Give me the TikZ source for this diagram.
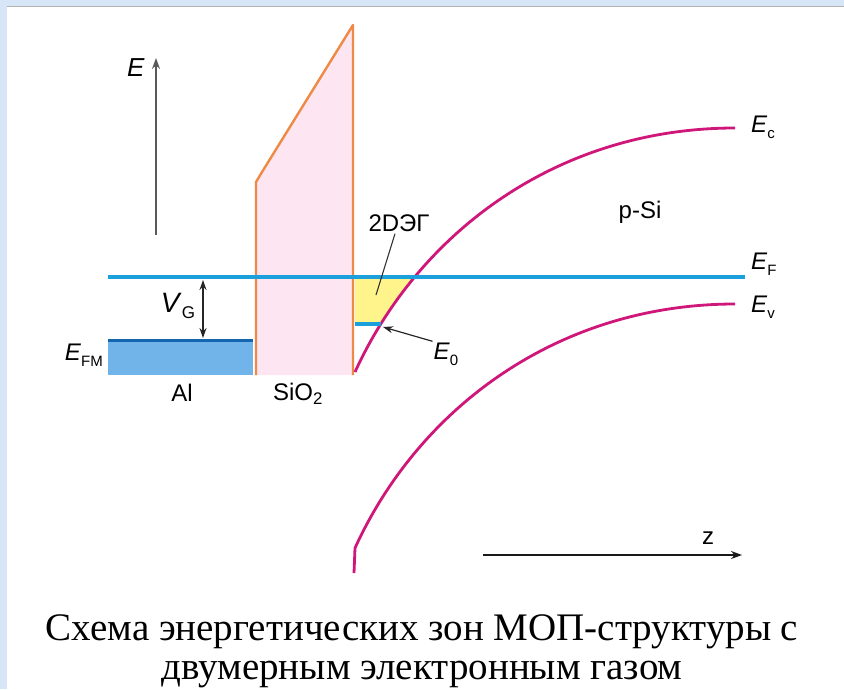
\documentclass[tikz,border=0pt]{standalone}
\usepackage{fontspec}
\setmainfont{Liberation Serif}
\setsansfont{Liberation Sans}
\usepackage{tikz}
\usetikzlibrary{arrows, arrows.meta, positioning}
\definecolor{framebg}{HTML}{D6E6F6}
\definecolor{fermiblue}{HTML}{1BA0DC}
\definecolor{alfill}{HTML}{70B4EA}
\definecolor{aldark}{HTML}{1466AE}
\definecolor{oxfill}{HTML}{FDE6F1}
\definecolor{oxline}{HTML}{EE8A45}
\definecolor{bandpink}{HTML}{CF1679}
\definecolor{gasfill}{HTML}{FFF48C}
\tikzstyle{level} = [line width=4pt, draw=fermiblue]
\tikzstyle{band} = [line width=2.8pt, draw=bandpink]
\tikzstyle{oxide} = [line width=2.4pt, draw=oxline, line join=round]
\tikzstyle{lbl} = [font=\sffamily\fontsize{24}{24}\selectfont, inner sep=1pt]
\tikzstyle{axis} = [line width=1.6pt, ->, >={Stealth[length=11pt, width=8pt]}]
\tikzstyle{pointer} = [line width=1.2pt, draw=black!85, ->, >={Stealth[length=10pt, width=7pt]}]
\tikzstyle{caption} = [font=\fontsize{39}{39}\selectfont, align=center, inner sep=0pt]
\newcommand{\elevel}[2]{\textit{#1}\raisebox{-0.5ex}{\fontsize{15}{15}\selectfont #2}}

\begin{document}
\begin{tikzpicture}[x=1pt, y=-1pt]
\useasboundingbox (0,0) rectangle (844,689);
% frame of the slide
\fill[framebg] (0,0) rectangle (844,6);
\fill[framebg] (0,0) rectangle (7,689);
\draw[black!30, line width=1pt] (7,6.5) -- (844,6.5);

% metal
\fill[alfill] (108,340) rectangle (253,375);
\draw[line width=3pt, draw=aldark] (108,340) -- (253,340);

% oxide
\fill[oxfill] (256,375) -- (256,182) -- (262,172) -- (353,25) -- (353,375) -- cycle;
\draw[oxide] (256,375) -- (256,182) -- (262,172) -- (353,25) -- (353,375);

% 2D gas
\begin{scope}
\clip (355,279) rectangle (500,323);
\fill[gasfill] (355,372) .. controls (420,230) and (560,128) .. (735,128) -- (355,128) -- cycle;
\end{scope}

% bands
\draw[band] (355,372) .. controls (420,230) and (560,128) .. (735,128);
\draw[band] (354,573) -- (355,548) .. controls (420,406) and (560,304) .. (735,304);

% levels
\draw[level] (108,277) -- (745,277);
\draw[level] (355,324) -- (381,324);

% axes
\coordinate (eorig) at (156,235);
\coordinate (etop) at (156,58);
\draw[axis, draw=black!65] (eorig) -- (etop);
\node[lbl, font=\sffamily\fontsize{26}{26}\selectfont, anchor=east] (elabel) at (146,68) {\textit{E}};
\coordinate (zorig) at (483,555);
\coordinate (zend) at (742,555);
\draw[axis, draw=black!90] (zorig) -- (zend);
\node[lbl] (zlabel) at (708,538) {z};

% labels
\node[lbl, anchor=west] (ec) at (750,127) {\elevel{E}{c}};
\node[lbl, anchor=west] (ef) at (750,264) {\elevel{E}{F}};
\node[lbl, anchor=west] (ev) at (750,307) {\elevel{E}{v}};
\node[lbl, anchor=east] (efm) at (104,355) {\elevel{E}{FM}};
\node[lbl] (psi) at (640,212) {p-Si};
\node[lbl] (al) at (182,393) {Al};
\node[lbl] (sio) at (298,394) {SiO\textsubscript{2}};
\node[lbl] (gas) at (399,223) {2DЭГ};
\node[lbl] (e0) at (446,354) {\elevel{E}{0}};
\node[lbl, font=\sffamily\fontsize{28}{28}\selectfont] (vg) at (178,306) {\textit{V}\raisebox{-0.45ex}{\fontsize{17}{17}\selectfont G}};

% pointers
\coordinate (gaspt) at (376,295);
\draw[line width=1.1pt, black!80] (gas.south) ++(-4,1) -- (gaspt);
\coordinate (e0pt) at (383,327);
\draw[pointer] (e0.north west) -- (e0pt);
\coordinate (vgtop) at (203,280);
\coordinate (vgbot) at (203,338);
\draw[pointer, <->] (vgtop) -- (vgbot);

% caption
\node[caption] (cap) at (422,651) {Схема энергетических зон МОП-структуры с\\[0pt]двумерным электронным газом};
\end{tikzpicture}
\end{document}
